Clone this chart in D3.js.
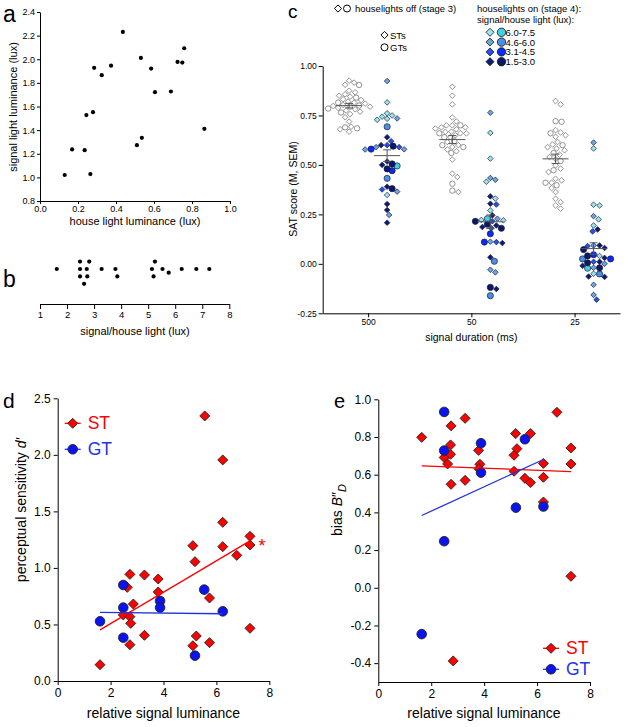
<!DOCTYPE html>
<html><head><meta charset="utf-8">
<script src="https://cdn.jsdelivr.net/npm/d3@7"></script>
<style>
body{margin:0;background:#fff;}
svg{display:block;font-family:"Liberation Sans",Arial,Helvetica,sans-serif;}
</style></head><body>
<svg id="chart" width="625" height="727"></svg>
<script>
// ---------- panel a / b data ----------
const houseLux  = [0.13,0.169,0.235,0.265,0.244,0.279,0.285,0.325,0.374,0.436,0.531,0.51,0.536,0.585,0.605,0.689,0.724,0.749,0.759,0.865];
const signalLux = [1.02,1.237,1.23,1.028,1.527,1.552,1.927,1.865,1.946,2.231,2.011,1.273,1.335,1.921,1.721,1.727,1.977,1.972,2.093,1.411];
const ratioLux  = [1.62,2.48,2.75,2.48,2.73,2.63,2.48,2.82,3.28,3.86,3.79,5.2,5.25,5.14,5.53,5.76,6.24,6.78,7.26];
const ticksA_x = [0,0.2,0.4,0.6,0.8,1.0];
const ticksA_y = [0.8,1.0,1.2,1.4,1.6,1.8,2.0,2.2,2.4];
const ticksB = [1,2,3,4,5,6,7,8];

// ---------- panel c data ----------
const durations = ["500","50","25"];
const ticksC_y = [-0.25,0,0.25,0.5,0.75,1.0];
const lightClasses = ["6.0-7.5","4.6-6.0","3.1-4.5","1.5-3.0"];
const classDiamond = ["#9ae6f0","#6aa6e6","#2650ee","#0c1d78"];
const classCircle  = ["#3fd2e2","#4a8fe0","#0a2cf2","#0a186a"];
// stage 3 (houselights off)
const offST500 = [0.926,0.916,0.905,0.875,0.867,0.857,0.850,0.845,0.832,0.828,0.820,0.815,0.810,0.803,0.798,0.794,0.788,0.781,0.775,0.769,0.757,0.741,0.719,0.693,0.680,0.668];
const offGT500 = [0.904,0.840,0.815,0.800,0.795,0.785,0.765,0.690,0.685];
const offST50  = [0.895,0.850,0.806,0.740,0.720,0.700,0.690,0.680,0.668,0.660,0.700,0.690,0.684,0.667,0.659,0.650,0.640,0.616,0.600,0.591,0.578,0.569,0.527,0.456,0.439,0.363];
const offGT50  = [0.700,0.660,0.640,0.620,0.600,0.590,0.560,0.405,0.370];
const offST25  = [0.823,0.806,0.676,0.664,0.650,0.642,0.616,0.603,0.590,0.583,0.574,0.552,0.540,0.530,0.498,0.481,0.464,0.430,0.422,0.410,0.383,0.363,0.329,0.312,0.295,0.279];
const offGT25  = [0.721,0.718,0.660,0.600,0.560,0.520,0.473,0.410,0.397];
// stage 4 (houselights on), one inner list per light class
const onST500 = [[0.816,0.761,0.750,0.744,0.733,0.728,0.348],[0.924,0.735,0.590,0.579,0.578,0.365,0.247],[0.620,0.600,0.590,0.376],[0.640,0.600,0.517,0.500,0.390,0.302,0.272,0.208]];
const onGT500 = [[0.495],[0.693,0.432],[0.580,0.471],[0.595,0.505,0.480,0.380]];
const onST50  = [[0.662,0.532,0.415,0.330,0.270,0.222,0.220],[0.764,0.434,0.425,0.228,0.112,-0.030,-0.043],[0.300,0.180,0.110,0.215],[0.341,0.304,0.245,0.194,0.186,0.105,0.033,-0.127]];
const onGT50  = [[0.228],[0.013,-0.161],[0.152,0.110],[0.200,0.180,-0.119,0.215]];
const onST25  = [[0.583,0.299,0.295,0.225,0.194,0.040,-0.050],[0.613,0.241,0.093,0.000,-0.020,-0.106,-0.157],[0.164,0.090,0.010,-0.181],[0.174,0.093,0.080,0.030,0.010,-0.010,-0.064,-0.066]];
const onGT25  = [[-0.022],[0.025,-0.051],[0.046,0.025],[0.072,0.040,0.005,-0.020]];

// ---------- panel d / e data ----------
const stLumD   = [1.6,2.48,2.63,2.73,2.73,2.76,2.86,2.73,3.28,3.28,3.80,3.80,5.11,5.19,5.11,5.24,5.56,5.74,5.74,6.24,6.24,6.24,6.77,7.27,7.27,7.27];
const stDprime = [0.144,0.584,0.828,0.943,0.569,0.51,0.681,0.321,0.937,0.404,0.902,0.787,1.197,1.055,0.312,0.398,2.344,0.734,0.339,1.955,1.403,1.188,1.111,1.279,1.203,0.466];
const gtLumD   = [1.6,2.48,2.48,2.48,3.87,3.87,5.19,5.54,6.24];
const gtDprime = [0.528,0.849,0.649,0.383,0.708,0.649,0.224,0.808,0.616];
const stLumE   = [1.64,2.49,2.62,2.75,2.73,2.73,2.75,2.83,3.28,3.28,3.79,3.84,3.80,5.13,5.19,5.24,5.13,5.54,5.75,5.75,6.24,6.24,6.24,6.75,7.28,7.28,7.28];
const stBias   = [0.798,0.691,0.657,0.859,0.758,0.708,0.549,-0.388,0.899,0.570,0.729,0.655,0.632,0.703,0.818,0.738,0.618,0.581,0.818,0.558,0.660,0.586,0.455,0.931,0.742,0.657,0.061];
const gtLumE   = [1.64,2.49,2.49,2.49,3.88,3.88,5.2,5.54,6.24];
const gtBias   = [-0.246,0.933,0.728,0.247,0.767,0.611,0.425,0.788,0.431];
const ticksDE_x = [0,2,4,6,8];
const ticksD_y = [0,0.5,1.0,1.5,2.0,2.5];
const ticksE_y = [-0.4,-0.2,0,0.2,0.4,0.6,0.8,1.0];

// ---------- helpers ----------
const FONT = "'Liberation Sans', Arial, Helvetica, sans-serif";
const svg = d3.select("#chart");
const RED = "#ff0000", BLUE = "#0a14f0";
function styleAxis(g, fs){
  g.attr("font-family", null).attr("font-size", null);
  g.selectAll("text").attr("font-size", fs).attr("fill", "#000").style("font-family", FONT);
  g.selectAll("line,path").attr("stroke", "#000").attr("stroke-width", 1);
}
function diamond(s){ return `M0,${-s}L${s},0L0,${s}L${-s},0Z`; }
function text(x, y, str, fs, opts={}){
  const t = svg.append("text").attr("x", x).attr("y", y).attr("font-size", fs)
    .attr("fill", opts.fill || "#000").attr("text-anchor", opts.anchor || "start")
    .style("font-family", FONT).text(str);
  if (opts.rotate) t.attr("transform", `rotate(-90,${x},${y})`);
  return t;
}
// simple beeswarm: offsets perpendicular to value axis
function swarm(pos, D, step){
  const order = d3.range(pos.length).sort((a,b)=>d3.ascending(pos[a], pos[b]));
  const placed = [], out = new Array(pos.length);
  for (const i of order){
    let off = 0;
    for (let k=0; k<400; k++){
      off = k===0 ? 0 : (k%2 ? 1 : -1) * Math.ceil(k/2) * step;
      const p = pos[i];
      if (placed.every(q => (q.p-p)*(q.p-p) + (q.o-off)*(q.o-off) >= D*D)) break;
    }
    placed.push({p: pos[i], o: off});
    out[i] = off;
  }
  return out;
}
function regress(xs, ys){
  const mx = d3.mean(xs), my = d3.mean(ys);
  let sxy=0, sxx=0;
  xs.forEach((x,i)=>{ sxy += (x-mx)*(ys[i]-my); sxx += (x-mx)*(x-mx); });
  const b = sxy/sxx, a = my - b*mx;
  const x0 = d3.min(xs), x1 = d3.max(xs);
  return [[x0, a+b*x0],[x1, a+b*x1]];
}

// ================= PANEL a =================
const xA = d3.scaleLinear().domain([0,1]).range([40,230]);
const yA = d3.scaleLinear().domain([0.8,2.4]).range([201,12]);
svg.append("g").attr("transform","translate(0,201)")
  .call(d3.axisBottom(xA).tickValues(ticksA_x).tickFormat(d=>d.toFixed(1)).tickSize(3).tickSizeOuter(0).tickPadding(2))
  .call(g=>styleAxis(g, 9));
svg.append("g").attr("transform","translate(40,0)")
  .call(d3.axisLeft(yA).tickValues(ticksA_y).tickFormat(d=>d.toFixed(1)).tickSize(3).tickSizeOuter(0).tickPadding(2))
  .call(g=>styleAxis(g, 9));
svg.append("g").selectAll("circle").data(houseLux).join("circle")
  .attr("cx", d=>xA(d)).attr("cy", (d,i)=>yA(signalLux[i])).attr("r", 2.1).attr("fill","#000");
text(135, 225, "house light luminance (lux)", 11, {anchor:"middle"});
text(17, 107, "signal light luminance (lux)", 11, {anchor:"middle", rotate:true});
text(3, 21.5, "a", 23);

// ================= PANEL b =================
const xB = d3.scaleLinear().domain([1,8]).range([40,229.3]);
svg.append("g").attr("transform","translate(0,304)")
  .call(d3.axisBottom(xB).tickValues(ticksB).tickFormat(d3.format("d")).tickSize(5).tickSizeOuter(0).tickPadding(2))
  .call(g=>styleAxis(g, 9.5));
const offB = swarm(ratioLux.map(v=>xB(v)), 6.6, 3.7);
svg.append("g").selectAll("circle").data(ratioLux).join("circle")
  .attr("cx", d=>xB(d)).attr("cy", (d,i)=>269 + offB[i]).attr("r", 2.1).attr("fill","#000");
text(135, 335, "signal/house light (lux)", 11, {anchor:"middle"});
text(3, 287, "b", 23);

// ================= PANEL c =================
const xC = d3.scalePoint().domain(durations).range([322.7,620]).padding(0.44);
const yC = d3.scaleLinear().domain([-0.25,1.0]).range([313.3,66]);
svg.append("g").attr("transform","translate(0,313.3)")
  .call(d3.axisBottom(xC).tickSize(4).tickSizeOuter(0).tickPadding(2))
  .call(g=>styleAxis(g, 8.5));
svg.append("g").attr("transform","translate(322.7,0)")
  .call(d3.axisLeft(yC).tickValues(ticksC_y).tickFormat(d=>d.toFixed(2)).tickSize(4).tickSizeOuter(0).tickPadding(2))
  .call(g=>styleAxis(g, 8.5));
text(471.3, 341, "signal duration (ms)", 10.5, {anchor:"middle"});
text(297, 189, "SAT score (M, SEM)", 10.5, {anchor:"middle", rotate:true});
text(288, 17.5, "c", 19);

const offData = [[offST500,offGT500],[offST50,offGT50],[offST25,offGT25]];
const onData  = [[onST500,onGT500],[onST50,onGT50],[onST25,onGT25]];
const gC = svg.append("g");
function drawColumn(points, cx){
  const offs = swarm(points.map(p=>yC(p.v)), 5.3, 1);
  const g = gC.append("g");
  points.forEach((p,i)=>{
    const x = cx + offs[i], y = yC(p.v);
    if (p.shape === "d"){
      g.append("path").attr("d", diamond(2.8)).attr("transform",`translate(${x},${y})`)
        .attr("fill", p.fill).attr("stroke", p.stroke).attr("stroke-width", 0.7);
    } else {
      g.append("circle").attr("cx", x).attr("cy", y).attr("r", p.r)
        .attr("fill", p.fill).attr("stroke", p.stroke).attr("stroke-width", 0.7);
    }
  });
  // mean +/- SEM
  const vals = points.map(p=>p.v);
  const m = d3.mean(vals), sem = d3.deviation(vals)/Math.sqrt(vals.length);
  const s = gC.append("g").attr("stroke","#555").attr("stroke-width",1);
  s.append("line").attr("x1",cx-13).attr("x2",cx+13).attr("y1",yC(m)).attr("y2",yC(m));
  s.append("line").attr("x1",cx).attr("x2",cx).attr("y1",yC(m-sem)).attr("y2",yC(m+sem));
  s.append("line").attr("x1",cx-4).attr("x2",cx+4).attr("y1",yC(m-sem)).attr("y2",yC(m-sem));
  s.append("line").attr("x1",cx-4).attr("x2",cx+4).attr("y1",yC(m+sem)).attr("y2",yC(m+sem));
}
durations.forEach((dur, i)=>{
  const cx = xC(dur);
  const offPts = [];
  offData[i][0].forEach(v=>offPts.push({v, shape:"d", fill:"#fff", stroke:"#666"}));
  offData[i][1].forEach(v=>offPts.push({v, shape:"c", r:2.7, fill:"#fff", stroke:"#666"}));
  drawColumn(offPts, cx - 19);
  const onPts = [];
  lightClasses.forEach((c, k)=>{
    onData[i][0][k].forEach(v=>onPts.push({v, shape:"d", fill:classDiamond[k], stroke:"#1a1a3a"}));
    onData[i][1][k].forEach(v=>onPts.push({v, shape:"c", r:3.1, fill:classCircle[k], stroke:"#1a1a3a"}));
  });
  drawColumn(onPts, cx + 19);
});
// legend c
svg.append("path").attr("d", diamond(3.6)).attr("transform","translate(338,8.5)").attr("fill","#fff").attr("stroke","#000").attr("stroke-width",1);
svg.append("circle").attr("cx",347).attr("cy",8.5).attr("r",3.5).attr("fill","#fff").attr("stroke","#000").attr("stroke-width",1);
text(355, 12, "houselights off (stage 3)", 9.5);
svg.append("path").attr("d", diamond(3.6)).attr("transform","translate(384.5,35)").attr("fill","#fff").attr("stroke","#000").attr("stroke-width",1);
text(390, 38.5, "STs", 9.5);
svg.append("circle").attr("cx",384.5).attr("cy",47.3).attr("r",3.5).attr("fill","#fff").attr("stroke","#000").attr("stroke-width",1);
text(390, 50.8, "GTs", 9.5);
text(477, 12, "houselights on (stage 4):", 9.5);
text(477, 22.5, "signal/house light (lux):", 9.5);
lightClasses.forEach((c,k)=>{
  const y = 32.3 + k*9.8;
  svg.append("path").attr("d", diamond(4)).attr("transform",`translate(490,${y})`).attr("fill",classDiamond[k]).attr("stroke","#111").attr("stroke-width",0.8);
  svg.append("circle").attr("cx",501.5).attr("cy",y).attr("r",4.2).attr("fill",classCircle[k]).attr("stroke","#111").attr("stroke-width",0.8);
  text(505.5, y+3.4, c, 9.5);
});

// ================= PANEL d =================
const xD = d3.scaleLinear().domain([0,8]).range([57.7,269.3]);
const yD = d3.scaleLinear().domain([0,2.5]).range([681,398.3]);
svg.append("g").attr("transform","translate(0,681)")
  .call(d3.axisBottom(xD).tickValues(ticksDE_x).tickFormat(d3.format("d")).tickSize(4).tickSizeOuter(0).tickPadding(3))
  .call(g=>styleAxis(g, 12));
svg.append("g").attr("transform","translate(57.7,0)")
  .call(d3.axisLeft(yD).tickValues(ticksD_y).tickFormat(d=>d.toFixed(1)).tickSize(4).tickSizeOuter(0).tickPadding(3))
  .call(g=>styleAxis(g, 12));
function scatter(xs, ys, xS, yS, shape){
  const g = svg.append("g");
  if (shape === "d"){
    g.selectAll("path").data(xs).join("path").attr("d", diamond(5))
      .attr("transform",(d,i)=>`translate(${xS(d)},${yS(ys[i])})`)
      .attr("fill", RED).attr("stroke","#222").attr("stroke-width",0.9);
  } else {
    g.selectAll("circle").data(xs).join("circle").attr("cx", d=>xS(d)).attr("cy",(d,i)=>yS(ys[i])).attr("r",4.8)
      .attr("fill", BLUE).attr("stroke","#222").attr("stroke-width",0.9);
  }
}
function fitLine(xs, ys, xS, yS, color){
  const L = regress(xs, ys);
  svg.append("line").attr("x1",xS(L[0][0])).attr("y1",yS(L[0][1])).attr("x2",xS(L[1][0])).attr("y2",yS(L[1][1]))
    .attr("stroke", color).attr("stroke-width",1.3);
}
scatter(stLumD, stDprime, xD, yD, "d");
scatter(gtLumD, gtDprime, xD, yD, "c");
fitLine(stLumD, stDprime, xD, yD, RED);
fitLine(gtLumD, gtDprime, xD, yD, "#2233dd");
text(262, 552, "*", 18, {fill:RED, anchor:"middle"});
function legendDE(x, y, lab, color, shape){
  svg.append("line").attr("x1",x-8).attr("x2",x+8).attr("y1",y).attr("y2",y).attr("stroke",color).attr("stroke-width",1.3);
  if (shape==="d") svg.append("path").attr("d",diamond(5)).attr("transform",`translate(${x},${y})`).attr("fill",RED).attr("stroke","#222").attr("stroke-width",0.9);
  else svg.append("circle").attr("cx",x).attr("cy",y).attr("r",4.8).attr("fill",BLUE).attr("stroke","#222").attr("stroke-width",0.9);
  text(x+15, y+6, lab, 17.5, {fill: color});
}
legendDE(72.7, 423.3, "ST", RED, "d");
legendDE(72.7, 449.3, "GT", "#2233ee", "c");
text(163.5, 718, "relative signal luminance", 14, {anchor:"middle"});
const ylD = text(26, 510, "perceptual sensitivity ", 14, {anchor:"middle", rotate:true});
ylD.append("tspan").attr("font-style","italic").text("d′");
text(3, 408, "d", 21);

// ================= PANEL e =================
const xE = d3.scaleLinear().domain([0,8]).range([378.3,590]);
const yE = d3.scaleLinear().domain([-0.5,1.0]).range([682,399.3]);
svg.append("g").attr("transform","translate(0,682)")
  .call(d3.axisBottom(xE).tickValues(ticksDE_x).tickFormat(d3.format("d")).tickSize(4).tickSizeOuter(0).tickPadding(3))
  .call(g=>styleAxis(g, 12));
svg.append("g").attr("transform","translate(378.3,0)")
  .call(d3.axisLeft(yE).tickValues(ticksE_y).tickFormat(d=>d.toFixed(1)).tickSize(4).tickSizeOuter(0).tickPadding(3))
  .call(g=>styleAxis(g, 12));
scatter(stLumE, stBias, xE, yE, "d");
scatter(gtLumE, gtBias, xE, yE, "c");
fitLine(stLumE, stBias, xE, yE, RED);
fitLine(gtLumE, gtBias, xE, yE, "#2233dd");
legendDE(551, 648.3, "ST", RED, "d");
legendDE(551, 669.3, "GT", "#2233ee", "c");
text(484, 718, "relative signal luminance", 14, {anchor:"middle"});
const ylE = text(342, 510, "bias ", 14, {anchor:"middle", rotate:true});
ylE.append("tspan").attr("font-style","italic").text("B");
ylE.append("tspan").text("″");
ylE.append("tspan").attr("font-style","italic").attr("font-size",11).attr("dy",4).text("D");
text(334, 408, "e", 20);
</script></body></html>
